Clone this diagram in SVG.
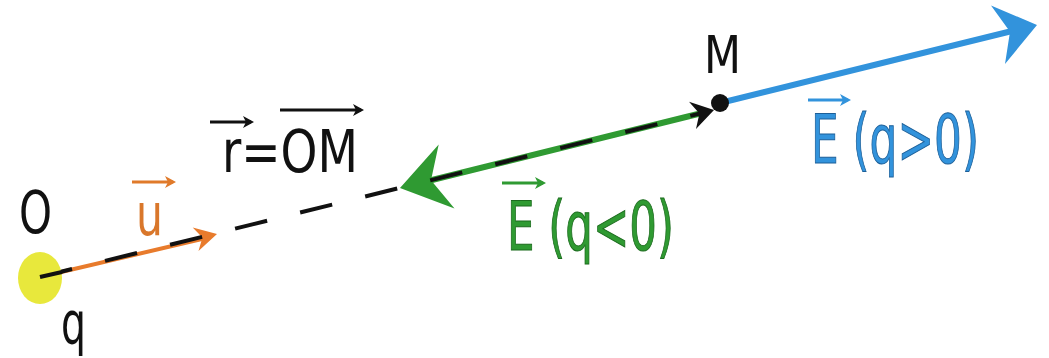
<svg xmlns="http://www.w3.org/2000/svg" width="1049" height="358" viewBox="0 0 1049 358">
<style>
text{font-family:"Liberation Sans Narrow","DejaVu Sans Condensed","Liberation Sans",sans-serif}
.blk{fill:#111}
.or{fill:#d9772b}
.gr{fill:#2f9a32;stroke:#1c6b1e;stroke-width:1}
.bl{fill:#3293dc;stroke:#1d5f98;stroke-width:1}
.va{stroke-width:3;fill:none}
</style>
<defs>
<marker id="mk" markerWidth="12" markerHeight="12" refX="8" refY="6" orient="auto" markerUnits="userSpaceOnUse"><path d="M0,0 L11,6 L0,12 L3,6 Z" fill="#111"/></marker>
<marker id="mo" markerWidth="12" markerHeight="12" refX="8" refY="6" orient="auto" markerUnits="userSpaceOnUse"><path d="M0,0 L11,6 L0,12 L3,6 Z" fill="#e07a2a"/></marker>
<marker id="mg" markerWidth="12" markerHeight="12" refX="8" refY="6" orient="auto" markerUnits="userSpaceOnUse"><path d="M0,0 L11,6 L0,12 L3,6 Z" fill="#2f9a32"/></marker>
<marker id="mb" markerWidth="12" markerHeight="12" refX="8" refY="6" orient="auto" markerUnits="userSpaceOnUse"><path d="M0,0 L11,6 L0,12 L3,6 Z" fill="#3293dc"/></marker>
</defs>
<rect width="1049" height="358" fill="#fff"/>

<g id="connectors">
  <line x1="40" y1="277" x2="204" y2="238.5" stroke="#e87b2c" stroke-width="4"/>
  <polygon points="217,234 192.7,227.6 202.4,237.6 198.5,251" fill="#e87b2c"/>
  <line x1="428" y1="181" x2="706" y2="112" stroke="#2f9a32" stroke-width="6"/>
  <polygon points="400,188 438.7,144.5 431,180.3 454.5,208.5" fill="#2f9a32"/>
  <line x1="720" y1="103" x2="1012" y2="31" stroke="#3293dc" stroke-width="6"/>
  <polygon points="1037,25 991,5.5 1010,31.7 1005,64" fill="#3293dc"/>
  <line x1="40" y1="277" x2="700" y2="113.5" stroke="#111" stroke-width="4" stroke-dasharray="33 34"/>
  <polygon points="714,110 689,101.7 699.4,113.6 696,129" fill="#111"/>
</g>

<g id="node-O">
  <ellipse cx="40" cy="278" rx="22" ry="26" fill="#e8e83c"/>
  <line x1="40" y1="277" x2="62" y2="272" stroke="#111" stroke-width="4"/>
  <text x="19" y="233" font-size="58" class="blk" textLength="33" lengthAdjust="spacingAndGlyphs">O</text>
  <text x="61" y="344" font-size="58" class="blk" textLength="25" lengthAdjust="spacingAndGlyphs">q</text>
</g>

<g id="node-u">
  <line x1="132" y1="182" x2="173" y2="182" stroke="#e07a2a" class="va" marker-end="url(#mo)"/>
  <text x="136" y="235" font-size="58" class="or" textLength="27" lengthAdjust="spacingAndGlyphs">u</text>
</g>

<g id="node-r">
  <line x1="210" y1="122" x2="251" y2="122" stroke="#111" class="va" marker-end="url(#mk)"/>
  <line x1="280" y1="110" x2="361" y2="110" stroke="#111" class="va" marker-end="url(#mk)"/>
  <text x="222" y="172" font-size="58" class="blk" textLength="136" lengthAdjust="spacingAndGlyphs">r=OM</text>
</g>

<g id="node-M">
  <circle cx="720" cy="103" r="9" fill="#111"/>
  <text x="704" y="73" font-size="51" class="blk" textLength="37" lengthAdjust="spacingAndGlyphs">M</text>
</g>

<g id="node-Eneg">
  <line x1="502" y1="183" x2="543" y2="183" stroke="#2f9a32" class="va" marker-end="url(#mg)"/>
  <text x="507" y="250" font-size="68" class="gr" textLength="167" lengthAdjust="spacingAndGlyphs">E (q&lt;0)</text>
</g>

<g id="node-Epos">
  <line x1="808" y1="100" x2="848" y2="100" stroke="#3293dc" class="va" marker-end="url(#mb)"/>
  <text x="811" y="163" font-size="68" class="bl" textLength="168" lengthAdjust="spacingAndGlyphs">E (q&gt;0)</text>
</g>
</svg>
